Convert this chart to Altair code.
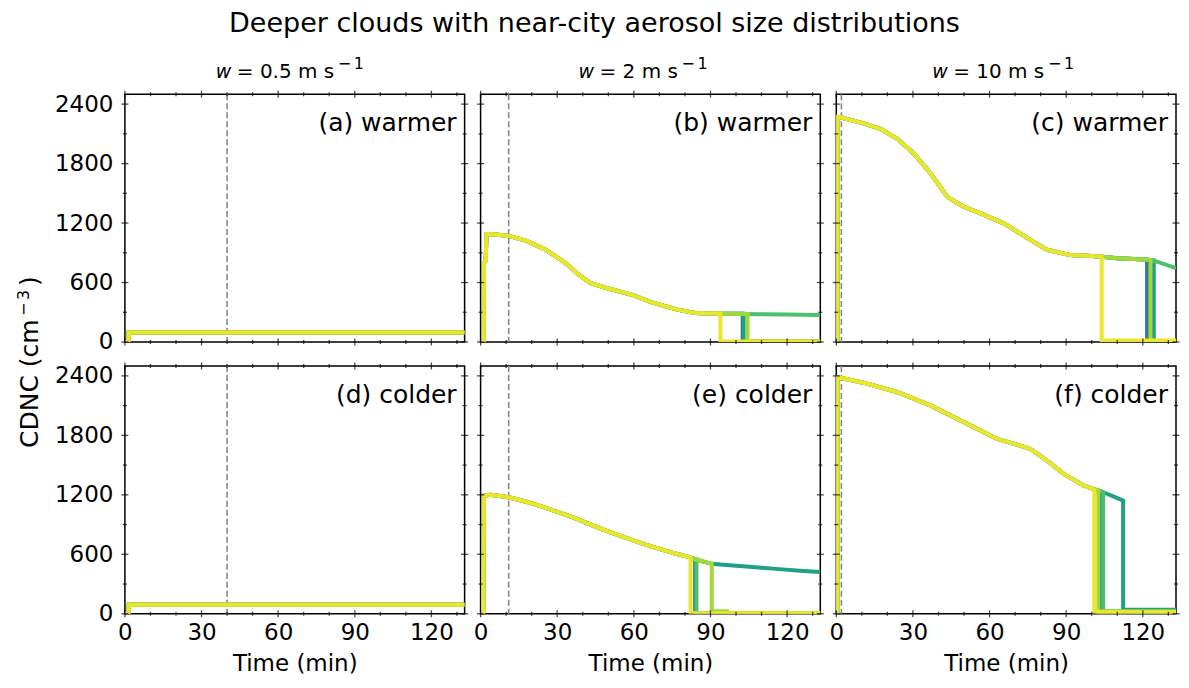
import altair as alt
import pandas as pd

FONT = "DejaVu Sans"
TMAX = 133
YMAX = 2500
W, H = 340, 248

series_names = ["A", "B", "C", "D", "E"]
series_colors = ["#30779a", "#1fa187", "#4ac16d", "#a0da39", "#ece52b"]

x_major = [0, 30, 60, 90, 120]
x_minor = [10, 20, 40, 50, 70, 80, 100, 110, 130]
y_major = [0, 600, 1200, 1800, 2400]
y_minor = [300, 900, 1500, 2100]

panel_labels = ["(a) warmer", "(b) warmer", "(c) warmer", "(d) colder", "(e) colder", "(f) colder"]
w_values = ["0.5", "2", "10"]
dash_times = [40, 11, 2]

# text piece positions for the column headers (relative to panel left edge)
w_x = [91, 98, 96]
eq_x = [112, 119, 117]
sup_x = [213, 201, 212]

# base trajectories (shared by all series until they drop)
a_t = [0, 1.4, 1.5, 133]
a_v = [0, 0, 95, 95]
d_t = [0, 1.4, 1.5, 133]
d_v = [0, 0, 92, 92]

b_t = [0, 1.2, 1.3, 2.0, 2.3, 5, 11, 18, 25, 31, 35, 38, 43, 50, 60, 67, 77, 84, 90, 95, 103, 110, 120, 133]
b_v = [0, 0, 800, 820, 1090, 1088, 1070, 1020, 937, 837, 760, 687, 593, 540, 470, 400, 327, 293, 287, 285, 283, 280, 277, 272]

c_t = [0, 0.4, 0.5, 2, 11, 17.5, 24, 30.5, 37, 43.5, 50, 56.5, 65.6, 76, 82.5, 91.6, 100, 104, 110, 121, 125, 133]
c_v = [0, 0, 2270, 2265, 2203, 2147, 2047, 1897, 1697, 1463, 1363, 1297, 1197, 1030, 930, 877, 867, 860, 845, 832, 815, 745]

e_t = [0, 1.0, 1.3, 3.9, 11, 18, 24.7, 31, 37.7, 44, 50.6, 57, 63.6, 70, 76.6, 81.8, 84, 86, 90.5, 95, 102.6, 110, 115.6, 125, 133]
e_v = [0, 0, 1190, 1200, 1176, 1130, 1075, 1020, 958, 890, 823, 765, 706, 655, 605, 571, 550, 535, 504, 495, 480, 465, 453, 435, 422]

f_t = [0, 0.4, 0.5, 2, 11, 24, 37, 50, 63, 70, 76, 82.5, 89, 96.8, 100.6, 104.5, 108, 112.3]
f_v = [0, 0, 2380, 2378, 2329, 2235, 2100, 1933, 1764, 1712, 1663, 1546, 1411, 1294, 1260, 1226, 1190, 1142]

# drops: series -> (drop time, value before drop, tail points after drop)
a_drops = {}
d_drops = {}
b_drops = {
    "E": (93.9, 287, [(93.9, 5), (133, 5)]),
    "A": (102.6, 284, [(102.6, 5), (133, 5)]),
    "B": (103.0, 284, [(103.0, 5), (133, 5)]),
    "D": (104.5, 283, [(104.5, 5), (133, 5)]),
}
c_drops = {
    "E": (103.9, 862, [(103.9, 15), (133, 15)]),
    "A": (121.7, 830, [(121.7, 10), (133, 10)]),
    "D": (123.0, 828, [(123.0, 10), (133, 10)]),
    "B": (124.3, 825, [(124.3, 10), (133, 10)]),
}
e_drops = {
    "E": (82.2, 569, [(82.2, 5), (133, 5)]),
    "A": (84.0, 550, [(84.0, 8), (133, 8)]),
    "C": (84.5, 548, [(84.5, 8), (133, 8)]),
    "D": (90.5, 504, [(90.5, 25), (96.5, 25), (96.5, 5), (133, 5)]),
}
f_drops = {
    "E": (101.0, 1255, [(101.0, 20), (133, 20)]),
    "D": (102.6, 1245, [(102.6, 20), (133, 20)]),
    "A": (103.5, 1235, [(103.5, 20), (133, 20)]),
    "C": (104.5, 1226, [(104.5, 25), (133, 25)]),
    "B": (112.3, 1142, [(112.3, 40), (133, 40)]),
}

panels = [
    (a_t, a_v, a_drops), (b_t, b_v, b_drops), (c_t, c_v, c_drops),
    (d_t, d_v, d_drops), (e_t, e_v, e_drops), (f_t, f_v, f_drops),
]


def panel_df(base_t, base_v, drops):
    rows = []
    for s in series_names:
        spec = drops.get(s)
        if spec is None:
            pts = list(zip(base_t, base_v))
        else:
            T, vb, tail = spec
            pts = [(t, v) for t, v in zip(base_t, base_v) if t < T] + [(T, vb)] + tail
        for i, (t, v) in enumerate(pts):
            rows.append({"s": s, "t": t, "v": v, "i": i})
    return pd.DataFrame(rows)


xs = alt.Scale(domain=[0, TMAX], nice=False, zero=False)
ys = alt.Scale(domain=[0, YMAX], nice=False)

xt_df = pd.DataFrame({"t": x_major + x_minor, "sz": [7] * len(x_major) + [4] * len(x_minor)})
yt_df = pd.DataFrame({"v": y_major + y_minor, "sz": [7] * len(y_major) + [4] * len(y_minor)})


def txt(label, x, y, size, align="left", baseline="alphabetic", angle=0, style="normal"):
    return (
        alt.Chart(pd.DataFrame({"lab": [label]}))
        .mark_text(align=align, baseline=baseline, fontSize=size, font=FONT, angle=angle,
                   fontStyle=style, color="black")
        .encode(text="lab:N", x=alt.value(x), y=alt.value(y))
    )


def make_panel(k):
    row, col = divmod(k, 3)
    base_t, base_v, drops = panels[k]
    df = panel_df(base_t, base_v, drops)

    if row == 1:
        xaxis = alt.Axis(values=x_major, format="d", title="Time (min)", labelPadding=8,
                         titlePadding=8, labelFlush=False)
    else:
        xaxis = None
    if col == 0:
        yaxis = alt.Axis(values=y_major, format="d", title=None, labelPadding=12, labelFlush=False)
    else:
        yaxis = None

    X = lambda f: alt.X(f, scale=xs, axis=xaxis)
    Y = lambda f: alt.Y(f, scale=ys, axis=yaxis)

    layers = []
    layers.append(
        alt.Chart(pd.DataFrame({"t": [dash_times[col]]}))
        .mark_rule(color="#888888", strokeDash=[6, 3], strokeWidth=1.6)
        .encode(x=X("t:Q"))
    )
    for s, c in zip(series_names, series_colors):
        layers.append(
            alt.Chart(df[df.s == s])
            .mark_line(color=c, strokeWidth=4, clip=True, strokeJoin="miter")
            .encode(x=X("t:Q"), y=Y("v:Q"), order="i:Q")
        )
    # inout ticks on all four sides
    for yv in (0, H):
        layers.append(
            alt.Chart(xt_df).mark_tick(color="black", thickness=1.3)
            .encode(x=X("t:Q"), y=alt.value(yv), size=alt.Size("sz:Q", scale=None))
        )
    for xv in (0, W):
        layers.append(
            alt.Chart(yt_df).mark_tick(color="black", thickness=1.3)
            .encode(y=Y("v:Q"), x=alt.value(xv), size=alt.Size("sz:Q", scale=None))
        )
    # panel label
    layers.append(txt(panel_labels[k], W - 8, 29, 25, align="right", baseline="middle"))
    if row == 0:
        layers.append(txt("w", w_x[col], -16, 19, style="italic"))
        layers.append(txt("= " + w_values[col] + " m s", eq_x[col], -16, 20))
        layers.append(txt("\u2212", sup_x[col], -25, 16))
        layers.append(txt("1", sup_x[col] + 16, -25, 16))
    if k == 1:
        layers.append(txt("Deeper clouds with near-city aerosol size distributions",
                          594 - 480, -62, 27, align="center"))
    if k == 3:
        layers.append(txt("CDNC (cm", -87, 82, 25, align="left", angle=270))
        layers.append(txt("\u2212", -96, 82 - 132, 16, align="left", angle=270))
        layers.append(txt("3", -96, 82 - 148, 16, align="left", angle=270))
        layers.append(txt(")", -87, 82 - 162, 25, align="left", angle=270))
    return alt.layer(*layers).properties(width=W, height=H)


chart = (
    alt.concat(*[make_panel(k) for k in range(6)], columns=3,
               spacing={"row": 24, "column": 16}, bounds="flush")
    .properties(padding={"left": 7, "top": 1, "right": 0, "bottom": 0})
    .configure_view(stroke="black", strokeWidth=1.5)
    .configure_axis(domain=False, ticks=False, grid=False, labelFont=FONT, labelFontSize=23,
                    labelColor="black", titleFont=FONT, titleFontSize=23,
                    titleFontWeight="normal", titleColor="black")
)

chart.save("out.html", embed_options={"renderer": "svg", "actions": False})
